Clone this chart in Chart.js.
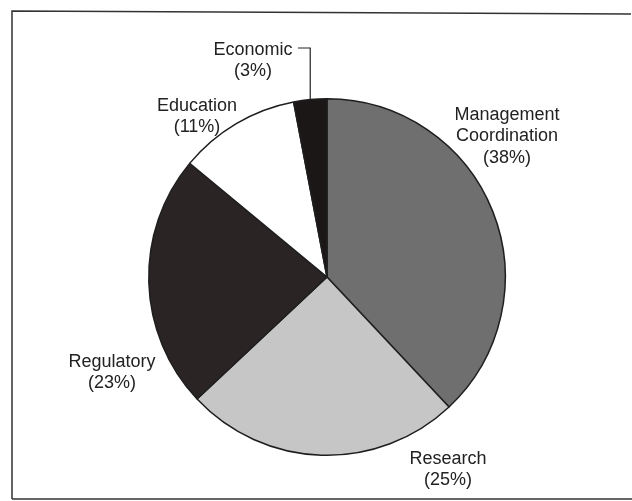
<!DOCTYPE html>
<html>
<head>
<meta charset="utf-8">
<script src="https://cdn.jsdelivr.net/npm/chart.js@4.4.1/dist/chart.umd.min.js"></script>
<style>
  html, body { margin: 0; padding: 0; background: #fff; }
  #wrap { width: 632px; height: 501px; }
</style>
</head>
<body>
<div id="wrap"><canvas id="budgetPie" width="632" height="501"></canvas></div>
<script>
// slices, clockwise from 12 o'clock
const categories = ['Management Coordination', 'Research', 'Regulatory', 'Education', 'Economic'];
const shares = [38, 25, 23, 11, 3];
const sliceColors = ['#6f6f6f', '#c6c6c6', '#2a2424', '#ffffff', '#1c1717'];

// label text lines and where they sit on the page
const labelLines = [
    ['Management', 'Coordination', '(38%)'],
    ['Research', '(25%)'],
    ['Regulatory', '(23%)'],
    ['Education', '(11%)'],
    ['Economic', '(3%)']
];
const labelSpots = [[507, 115], [448, 459], [112, 362], [197, 106], [253, 50]];

const labelPlugin = {
    id: 'sliceLabels',
    afterDraw(chart) {
        const ctx = chart.ctx;
        ctx.save();

        // scanned frame
        ctx.strokeStyle = '#333';
        ctx.lineWidth = 1.5;
        ctx.beginPath();
        ctx.moveTo(12, 499);
        ctx.lineTo(12, 11);
        ctx.lineTo(631, 14);
        ctx.stroke();
        ctx.beginPath();
        ctx.moveTo(12, 499);
        ctx.lineTo(632, 499);
        ctx.stroke();

        ctx.fillStyle = '#222';
        ctx.font = '18px "Liberation Sans", Arial, sans-serif';
        ctx.textAlign = 'center';
        ctx.textBaseline = 'middle';
        labelLines.forEach((lines, i) => {
            const [x, y] = labelSpots[i];
            lines.forEach((t, j) => ctx.fillText(t, x, y + j * 21.5));
        });

        // leader line for the thin Economic slice
        const arc = chart.getDatasetMeta(0).data[4];
        const mid = (arc.startAngle + arc.endAngle) / 2;
        const ex = arc.x + Math.cos(mid) * arc.outerRadius;
        const ey = arc.y + Math.sin(mid) * arc.outerRadius;
        ctx.strokeStyle = '#222';
        ctx.lineWidth = 1.2;
        ctx.beginPath();
        ctx.moveTo(298, 48);
        ctx.lineTo(ex, 48);
        ctx.lineTo(ex, ey);
        ctx.stroke();
        ctx.restore();
    }
};

new Chart(document.getElementById('budgetPie'), {
    type: 'pie',
    data: {
        labels: categories,
        datasets: [{
            data: shares,
            backgroundColor: sliceColors,
            borderColor: '#1e1e1e',
            borderWidth: 1.5
        }]
    },
    options: {
        responsive: false,
        animation: false,
        layout: { padding: { left: 148, right: 126, top: 98, bottom: 45 } },
        plugins: {
            legend: { display: false },
            tooltip: { enabled: false }
        }
    },
    plugins: [labelPlugin]
});
</script>
</body>
</html>
